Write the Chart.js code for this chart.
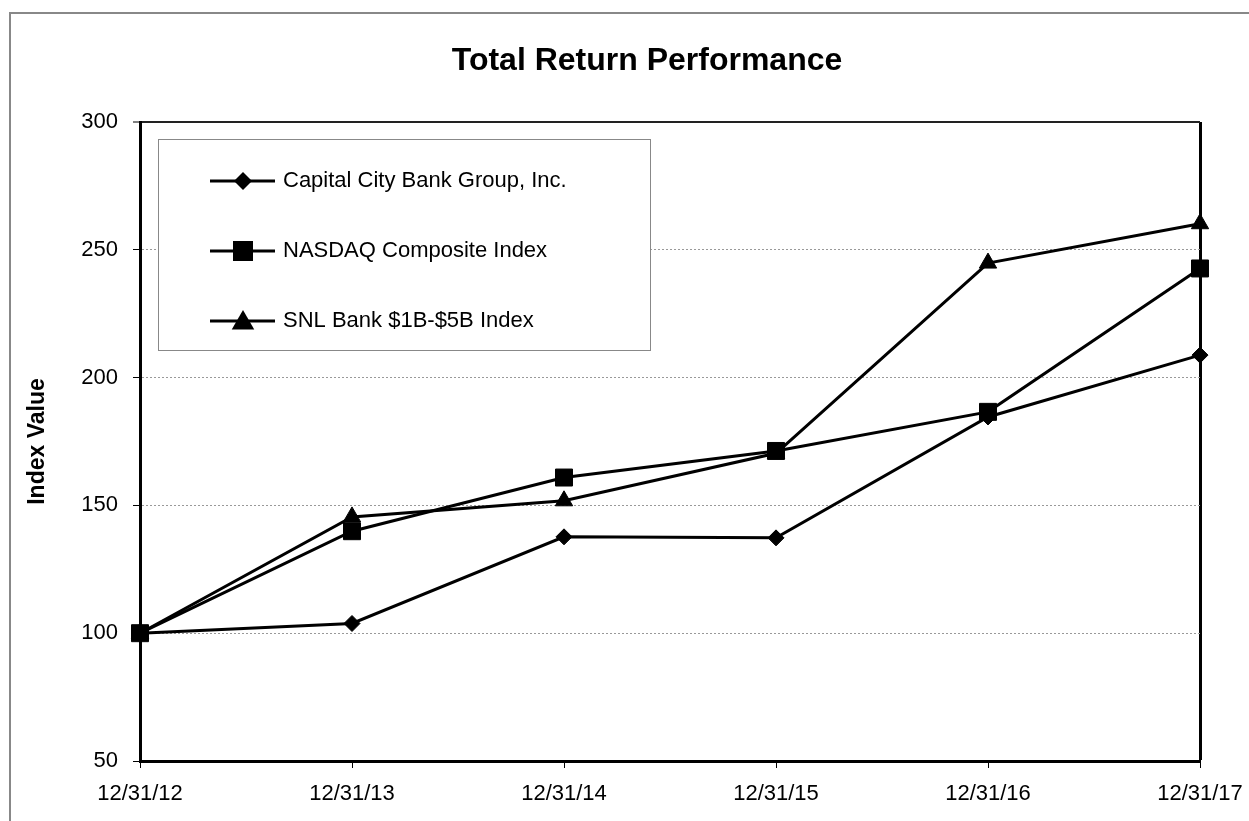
<!DOCTYPE html>
<html>
<head>
<meta charset="utf-8">
<script src="https://cdn.jsdelivr.net/npm/chart.js@4.4.1/dist/chart.umd.min.js"></script>
<style>
  html, body { margin: 0; padding: 0; background: #fff; overflow: hidden; }
  #wrap { position: relative; width: 1249px; height: 821px; }
  #frame { position: absolute; left: 9px; top: 12px; width: 1400px; height: 1000px;
           border-left: 2px solid #888; border-top: 2px solid #888; box-sizing: border-box; }
  canvas { position: absolute; left: 0; top: 0; }
</style>
</head>
<body>
<div id="wrap">
  <div id="frame"></div>
  <canvas id="c" width="1249" height="821"></canvas>
</div>
<script>
const categories = ['12/31/12', '12/31/13', '12/31/14', '12/31/15', '12/31/16', '12/31/17'];
const capitalCity = [100, 103.8, 137.7, 137.3, 184.6, 208.8];
const nasdaq = [100, 139.9, 160.9, 171.3, 186.6, 242.7];
const snlBank = [100, 145.5, 151.8, 170.4, 244.8, 260.2];
const seriesNames = ['Capital City Bank Group, Inc.', 'NASDAQ Composite Index', 'SNL Bank $1B-$5B Index'];
const yMin = 50, yMax = 300, yStep = 50;
const chartTitle = 'Total Return Performance';
const yAxisTitle = 'Index Value';

const FONT = "'Liberation Sans', Arial, Helvetica, sans-serif";

const titleShift = {
  id: 'titleShift',
  afterLayout(chart) {
    const t = chart.titleBlock;
    if (t) { t.left += 47; t.right += 47; }
  }
};

const boxLegend = {
  id: 'boxLegend',
  afterDatasetsDraw(chart) {
    const ctx = chart.ctx;
    const x0 = 158.5, y0 = 139.5, x1 = 650.5, y1 = 350.5;
    ctx.save();
    ctx.fillStyle = '#fff';
    ctx.fillRect(x0, y0, x1 - x0, y1 - y0);
    ctx.strokeStyle = '#888';
    ctx.lineWidth = 1;
    ctx.strokeRect(x0, y0, x1 - x0, y1 - y0);
    const rows = [181, 251, 321];
    const styles = ['diamond', 'square', 'triangle'];
    rows.forEach((y, i) => {
      ctx.strokeStyle = '#000';
      ctx.lineWidth = 3;
      ctx.beginPath();
      ctx.moveTo(210, y);
      ctx.lineTo(275, y);
      ctx.stroke();
      ctx.fillStyle = '#000';
      ctx.beginPath();
      const cx = 243;
      if (styles[i] === 'diamond') {
        ctx.moveTo(cx, y - 9); ctx.lineTo(cx + 9, y); ctx.lineTo(cx, y + 9); ctx.lineTo(cx - 9, y);
      } else if (styles[i] === 'square') {
        ctx.rect(cx - 10, y - 10, 20, 20);
      } else {
        const cy = y + 2;
        const r = 13;
        ctx.moveTo(cx, cy - r);
        ctx.lineTo(cx + r * Math.sin(2 * Math.PI / 3), cy + r / 2);
        ctx.lineTo(cx - r * Math.sin(2 * Math.PI / 3), cy + r / 2);
      }
      ctx.closePath();
      ctx.fill();
      ctx.fillStyle = '#000';
      ctx.font = '22px ' + FONT;
      ctx.textBaseline = 'middle';
      ctx.textAlign = 'left';
      ctx.fillText(seriesNames[i], 283, y);
    });
    ctx.restore();
  }
};

const common = {
  borderColor: '#000',
  borderWidth: 3,
  backgroundColor: '#000',
  pointBackgroundColor: '#000',
  pointBorderColor: '#000',
  pointBorderWidth: 1,
  tension: 0,
  fill: false,
  clip: false
};

new Chart(document.getElementById('c'), {
  type: 'line',
  data: {
    labels: categories,
    datasets: [
      Object.assign({}, common, { label: seriesNames[0], data: capitalCity, pointStyle: 'rectRot', pointRadius: 8, order: 1 }),
      Object.assign({}, common, { label: seriesNames[1], data: nasdaq, pointStyle: 'rect', pointRadius: 12, order: 0 }),
      Object.assign({}, common, { label: seriesNames[2], data: snlBank, pointStyle: 'triangle', pointRadius: 10, order: 2 })
    ]
  },
  options: {
    responsive: false,
    animation: false,
    devicePixelRatio: 1,
    events: [],
    layout: { padding: { left: 0, right: 49, top: 0, bottom: 0 } },
    plugins: {
      legend: { display: false },
      tooltip: { enabled: false },
      title: {
        display: true,
        text: chartTitle,
        color: '#000',
        font: { family: FONT, size: 32, weight: 'bold' },
        padding: { top: 42, bottom: 41.6 }
      }
    },
    scales: {
      x: {
        type: 'category',
        offset: false,
        grid: {
          color: (c) => c.index === categories.length - 1 ? '#000' : 'rgba(0,0,0,0)',
          lineWidth: (c) => c.index === categories.length - 1 ? 3 : 1,
          tickColor: '#000',
          tickWidth: 1,
          tickLength: 7
        },
        border: { color: '#000', width: 3 },
        ticks: { color: '#000', font: { family: FONT, size: 22 }, padding: 13, maxRotation: 0, autoSkip: false },
        afterFit(s) { s.height = 60; s.paddingLeft = 0; s.paddingRight = 0; }
      },
      y: {
        min: yMin,
        max: yMax,
        ticks: { stepSize: yStep, color: '#000', font: { family: FONT, size: 22 }, padding: 15 },
        grid: {
          color: (c) => {
            const v = c.tick ? c.tick.value : null;
            if (v === yMin) return 'rgba(0,0,0,0)';
            if (v === yMax) return '#222';
            return '#999';
          },
          lineWidth: (c) => (c.tick && c.tick.value === yMax) ? 2 : 1,
          tickColor: '#000',
          tickWidth: 1,
          tickLength: 7
        },
        border: {
          color: '#000',
          width: 3,
          dash: (c) => (c.tick && c.tick.value === yMax) ? [] : [2, 2]
        },
        title: {
          display: true,
          text: yAxisTitle,
          color: '#000',
          font: { family: FONT, size: 23, weight: 'bold' },
          padding: { top: 24, bottom: 0 }
        },
        afterFit(s) { s.width = 140; }
      }
    }
  },
  plugins: [titleShift, boxLegend]
});
</script>
</body>
</html>
